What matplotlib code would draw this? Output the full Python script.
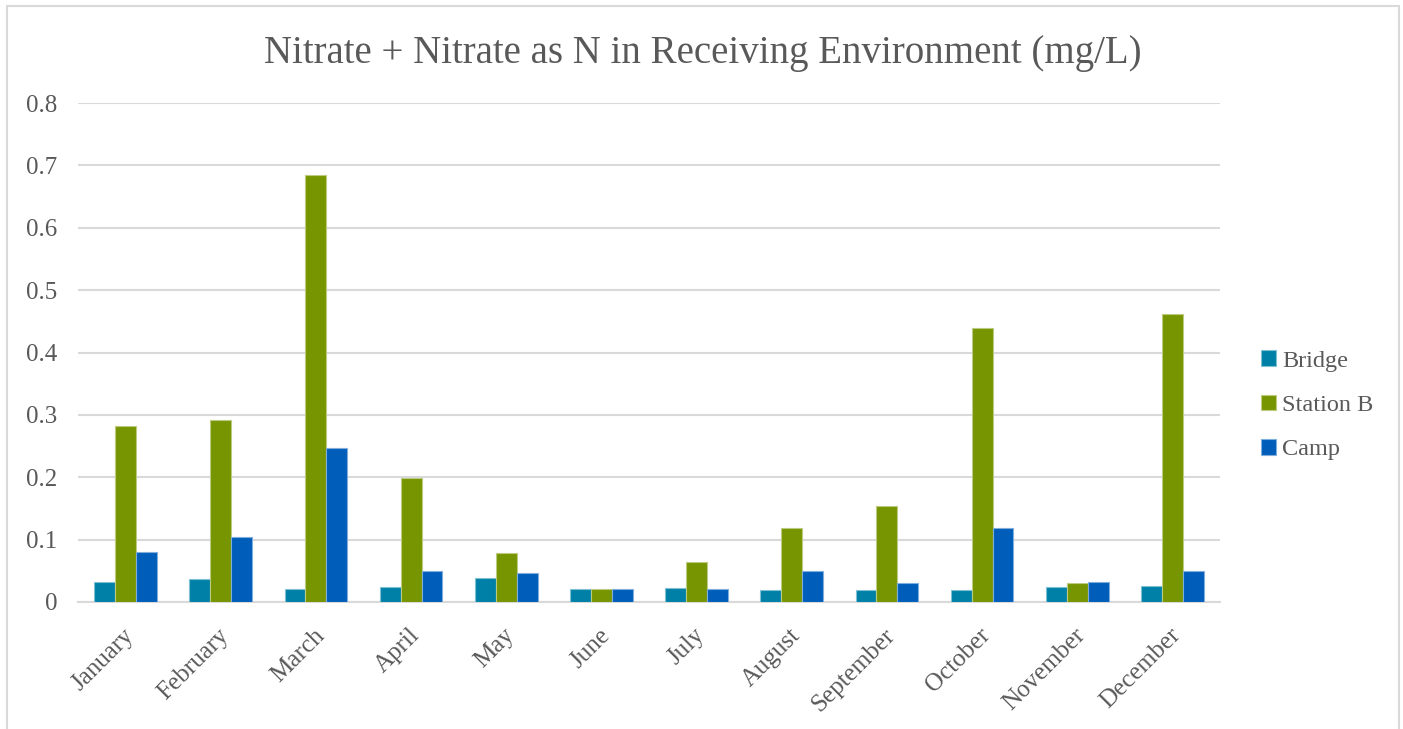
import matplotlib.pyplot as plt
import numpy as np
from matplotlib.patches import Rectangle

months = ['January', 'February', 'March', 'April', 'May', 'June', 'July',
          'August', 'September', 'October', 'November', 'December']
bridge = [0.032, 0.037, 0.021, 0.024, 0.038, 0.021, 0.022, 0.020, 0.020, 0.020, 0.024, 0.026]
station_b = [0.282, 0.292, 0.684, 0.199, 0.078, 0.021, 0.064, 0.119, 0.154, 0.440, 0.030, 0.462]
camp = [0.080, 0.104, 0.247, 0.050, 0.046, 0.021, 0.021, 0.050, 0.030, 0.119, 0.032, 0.050]

series = ['Bridge', 'Station B', 'Camp']
colors = ['#0080A6', '#779500', '#005DBA']
edges = ['#7fc0d3', '#bccb80', '#7faedd']

plt.rcParams['font.family'] = ['Liberation Serif', 'DejaVu Serif']
text_col = '#595959'
grid_col = '#d9d9d9'

W, H = 1403, 729
fig = plt.figure(figsize=(W / 100, H / 100), dpi=100)

# outer chart frame
fig.patches.append(Rectangle((7 / W, -0.05), (1399 - 7) / W, 1.05 - 6 / H,
                             transform=fig.transFigure, fill=False,
                             edgecolor=grid_col, linewidth=1.5))

ax = fig.add_axes([78 / W, 1 - 602 / H, (1220 - 78) / W, (602 - 103) / H])

x = np.arange(len(months))
bw = 0.22
for i, (vals, c, e, name) in enumerate(zip([bridge, station_b, camp], colors, edges, series)):
    ax.bar(x + (i - 1) * bw, vals, bw, color=c, edgecolor=e, linewidth=0.8,
           label=name, zorder=3)

ax.set_xlim(-0.5, len(months) - 0.5)
ax.set_ylim(0, 0.8)
ax.set_yticks(np.arange(0, 0.81, 0.1))
ax.set_yticklabels(['0'] + ['%.1f' % v for v in np.arange(0.1, 0.81, 0.1)])
ax.yaxis.grid(True, color=grid_col, linewidth=1.5, zorder=0)
ax.set_axisbelow(True)
for s in ['top', 'right', 'left']:
    ax.spines[s].set_visible(False)
ax.spines['bottom'].set_color(grid_col)
ax.spines['bottom'].set_linewidth(1.5)
ax.tick_params(axis='both', length=0, colors=text_col, labelsize=18)
ax.tick_params(axis='y', pad=15)
ax.set_xticks(x - 0.03)
ax.set_xticklabels(months, rotation=45, ha='right', rotation_mode='anchor')
ax.tick_params(axis='x', pad=16)

fig.text(703 / W, 1 - 53 / H, 'Nitrate + Nitrate as N in Receiving Environment (mg/L)',
         ha='center', va='center', fontsize=28, color=text_col)

ax.legend(loc='center left', bbox_to_anchor=(1.017, 0.394), frameon=False,
          fontsize=17.5, labelcolor=text_col, handlelength=0.6, handleheight=0.6,
          handletextpad=0.25, labelspacing=0.95)

fig.savefig('out.png', dpi=100)
